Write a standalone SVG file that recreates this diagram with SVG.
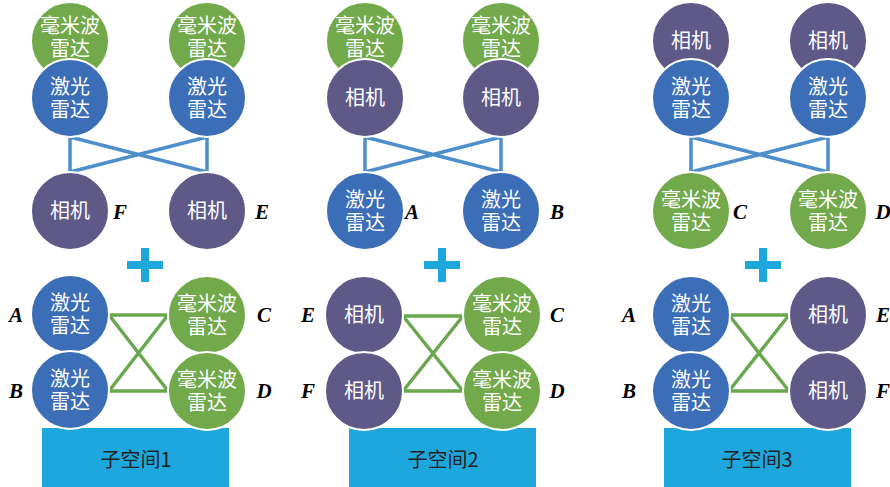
<svg xmlns="http://www.w3.org/2000/svg" width="890" height="487" viewBox="0 0 890 487">
<style>
.g{fill:#71a94b;stroke:#fff;stroke-width:2}
.b{fill:#3c6eb7;stroke:#fff;stroke-width:2}
.p{fill:#5f5987;stroke:#fff;stroke-width:2}
.t{fill:#fff;font-family:"Noto Sans CJK SC",sans-serif;font-size:20px;text-anchor:middle}
.lb{fill:none;stroke:#4d8ecb;stroke-width:3.5}
.lg{fill:none;stroke:#6aa84f;stroke-width:3.5}
.lab{fill:#000;font-family:"Liberation Serif",serif;font-weight:bold;font-style:italic;font-size:21px;text-anchor:middle}
.rect{fill:#1ea7dd}
.rt{fill:#222;font-family:"Noto Sans CJK SC",sans-serif;font-size:20px;text-anchor:middle}
.plus{fill:#1ea7dd}
</style>
<g id="connectors">
<path class="lb" d="M70,137V172M207,137V172M70,137L207,172M207,137L70,172"/>
<path class="lg" d="M109,315H168M109,391H168M109,315L168,391M168,315L109,391"/>
<path class="lb" d="M365,137V172M501,137V172M365,137L501,172M501,137L365,172"/>
<path class="lg" d="M403,316H463M403,391H463M403,316L463,391M463,316L403,391"/>
<path class="lb" d="M691,137V172M828,137V172M691,137L828,172M828,137L691,172"/>
<path class="lg" d="M729,315H789M729,391H789M729,315L789,391M789,315L729,391"/>
</g>
<g id="plus1"><rect class="plus" x="127" y="261" width="36" height="8"/><rect class="plus" x="141" y="248" width="8" height="34"/></g>
<g id="plus2"><rect class="plus" x="424" y="261" width="36" height="8"/><rect class="plus" x="438" y="248" width="8" height="34"/></g>
<g id="plus3"><rect class="plus" x="745" y="261" width="36" height="8"/><rect class="plus" x="759" y="248" width="8" height="34"/></g>
<g id="sub1"><rect class="rect" x="42" y="428" width="187" height="62"/><text class="rt" x="136" y="467">子空间1</text></g>
<g id="sub2"><rect class="rect" x="349" y="428" width="187" height="62"/><text class="rt" x="443" y="467">子空间2</text></g>
<g id="sub3"><rect class="rect" x="664" y="428" width="187" height="62"/><text class="rt" x="757" y="467">子空间3</text></g>
<!-- Panel 1 -->
<g id="p1-mmw-l"><circle class="g" cx="70" cy="41" r="39"/><text class="t" x="70" y="33">毫米波<tspan x="70" dy="23">雷达</tspan></text></g>
<g id="p1-mmw-r"><circle class="g" cx="207" cy="41" r="39"/><text class="t" x="207" y="33">毫米波<tspan x="207" dy="23">雷达</tspan></text></g>
<g id="p1-lid-l"><circle class="b" cx="70" cy="98" r="39"/><text class="t" x="70" y="94">激光<tspan x="70" dy="23">雷达</tspan></text></g>
<g id="p1-lid-r"><circle class="b" cx="207" cy="98" r="39"/><text class="t" x="207" y="94">激光<tspan x="207" dy="23">雷达</tspan></text></g>
<g id="p1-F"><circle class="p" cx="70" cy="211" r="39"/><text class="t" x="70" y="218">相机</text><text class="lab" x="120" y="219">F</text></g>
<g id="p1-E"><circle class="p" cx="207" cy="211" r="39"/><text class="t" x="207" y="218">相机</text><text class="lab" x="262" y="219">E</text></g>
<g id="p1-A"><circle class="b" cx="70" cy="314" r="39"/><text class="t" x="70" y="310">激光<tspan x="70" dy="23">雷达</tspan></text><text class="lab" x="16" y="322">A</text></g>
<g id="p1-B"><circle class="b" cx="70" cy="390" r="39"/><text class="t" x="70" y="386">激光<tspan x="70" dy="23">雷达</tspan></text><text class="lab" x="16" y="398">B</text></g>
<g id="p1-C"><circle class="g" cx="207" cy="315" r="39"/><text class="t" x="207" y="311">毫米波<tspan x="207" dy="23">雷达</tspan></text><text class="lab" x="264" y="322">C</text></g>
<g id="p1-D"><circle class="g" cx="207" cy="391" r="39"/><text class="t" x="207" y="387">毫米波<tspan x="207" dy="23">雷达</tspan></text><text class="lab" x="264" y="398">D</text></g>
<!-- Panel 2 -->
<g id="p2-mmw-l"><circle class="g" cx="365" cy="41" r="39"/><text class="t" x="365" y="33">毫米波<tspan x="365" dy="23">雷达</tspan></text></g>
<g id="p2-mmw-r"><circle class="g" cx="501" cy="41" r="39"/><text class="t" x="501" y="33">毫米波<tspan x="501" dy="23">雷达</tspan></text></g>
<g id="p2-cam-l"><circle class="p" cx="365" cy="98" r="39"/><text class="t" x="365" y="105">相机</text></g>
<g id="p2-cam-r"><circle class="p" cx="501" cy="98" r="39"/><text class="t" x="501" y="105">相机</text></g>
<g id="p2-A"><circle class="b" cx="365" cy="211" r="39"/><text class="t" x="365" y="207">激光<tspan x="365" dy="23">雷达</tspan></text><text class="lab" x="412" y="219">A</text></g>
<g id="p2-B"><circle class="b" cx="501" cy="211" r="39"/><text class="t" x="501" y="207">激光<tspan x="501" dy="23">雷达</tspan></text><text class="lab" x="557" y="219">B</text></g>
<g id="p2-E"><circle class="p" cx="364" cy="315" r="39"/><text class="t" x="364" y="322">相机</text><text class="lab" x="308" y="322">E</text></g>
<g id="p2-F"><circle class="p" cx="364" cy="391" r="39"/><text class="t" x="364" y="398">相机</text><text class="lab" x="308" y="398">F</text></g>
<g id="p2-C"><circle class="g" cx="502" cy="315" r="39"/><text class="t" x="502" y="311">毫米波<tspan x="502" dy="23">雷达</tspan></text><text class="lab" x="557" y="322">C</text></g>
<g id="p2-D"><circle class="g" cx="502" cy="391" r="39"/><text class="t" x="502" y="387">毫米波<tspan x="502" dy="23">雷达</tspan></text><text class="lab" x="557" y="398">D</text></g>
<!-- Panel 3 -->
<g id="p3-cam-l"><circle class="p" cx="691" cy="41" r="39"/><text class="t" x="691" y="48">相机</text></g>
<g id="p3-cam-r"><circle class="p" cx="828" cy="41" r="39"/><text class="t" x="828" y="48">相机</text></g>
<g id="p3-lid-l"><circle class="b" cx="691" cy="98" r="39"/><text class="t" x="691" y="94">激光<tspan x="691" dy="23">雷达</tspan></text></g>
<g id="p3-lid-r"><circle class="b" cx="828" cy="98" r="39"/><text class="t" x="828" y="94">激光<tspan x="828" dy="23">雷达</tspan></text></g>
<g id="p3-C"><circle class="g" cx="691" cy="211" r="39"/><text class="t" x="691" y="207">毫米波<tspan x="691" dy="23">雷达</tspan></text><text class="lab" x="740" y="219">C</text></g>
<g id="p3-D"><circle class="g" cx="828" cy="211" r="39"/><text class="t" x="828" y="207">毫米波<tspan x="828" dy="23">雷达</tspan></text><text class="lab" x="883" y="219">D</text></g>
<g id="p3-A"><circle class="b" cx="691" cy="315" r="39"/><text class="t" x="691" y="311">激光<tspan x="691" dy="23">雷达</tspan></text><text class="lab" x="629" y="322">A</text></g>
<g id="p3-B"><circle class="b" cx="691" cy="391" r="39"/><text class="t" x="691" y="387">激光<tspan x="691" dy="23">雷达</tspan></text><text class="lab" x="629" y="398">B</text></g>
<g id="p3-E"><circle class="p" cx="828" cy="315" r="39"/><text class="t" x="828" y="322">相机</text><text class="lab" x="883" y="322">E</text></g>
<g id="p3-F"><circle class="p" cx="828" cy="391" r="39"/><text class="t" x="828" y="398">相机</text><text class="lab" x="883" y="398">F</text></g>
</svg>
